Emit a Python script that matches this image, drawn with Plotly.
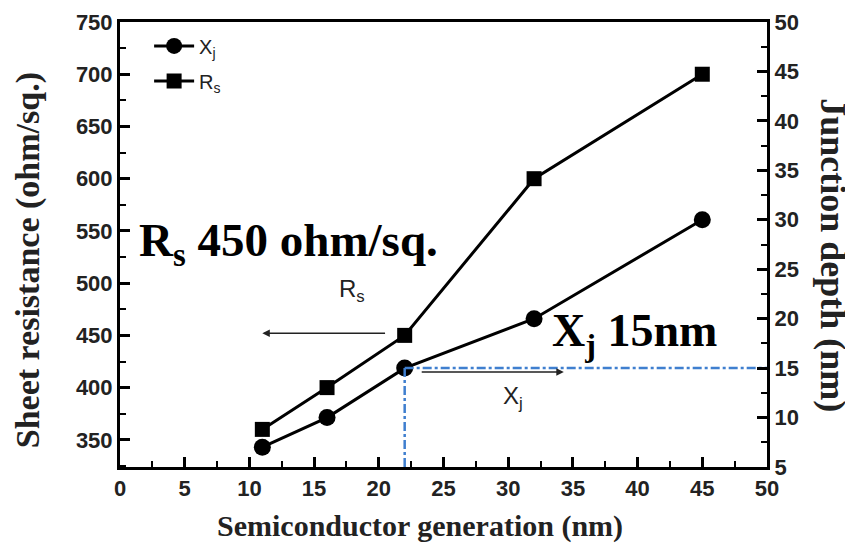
import plotly.graph_objects as go

generation = [11, 16, 22, 32, 45]
rs_values = [360, 400, 450, 600, 700]
xj_values = [7, 10, 15, 20, 30]

x_ticks = [0, 5, 10, 15, 20, 25, 30, 35, 40, 45, 50]
left_ticks = [350, 400, 450, 500, 550, 600, 650, 700, 750]
right_ticks = [5, 10, 15, 20, 25, 30, 35, 40, 45, 50]

SANS = "Liberation Sans"
SERIF = "Liberation Serif"


def bold(vals):
    return [f"<b>{v}</b>" for v in vals]


fig = go.Figure()
fig.add_trace(go.Scatter(
    x=generation, y=xj_values, name="X<sub>j</sub>", yaxis="y2", legendgroup="a",
    mode="lines+markers", line=dict(color="black", width=3),
    marker=dict(symbol="circle", size=17, color="black"),
))
fig.add_trace(go.Scatter(
    x=generation, y=rs_values, name="R<sub>s</sub>", legendgroup="b",
    mode="lines+markers", line=dict(color="black", width=3),
    marker=dict(symbol="square", size=15, color="black"),
))

# reference lines at Xj = 15 nm, generation = 22 nm
blue = "#3f7fcf"
fig.add_trace(go.Scatter(x=[22, 50], y=[15, 15], yaxis="y2", mode="lines",
                         line=dict(color=blue, width=2.5, dash="dashdot"),
                         showlegend=False, hoverinfo="skip"))
fig.add_trace(go.Scatter(x=[22, 22], y=[5, 15], yaxis="y2", mode="lines",
                         line=dict(color=blue, width=2.5, dash="dashdot"),
                         showlegend=False, hoverinfo="skip"))

axis_common = dict(
    showgrid=False, zeroline=False, showline=True, linecolor="black", linewidth=3,
    ticks="inside", ticklen=10, tickwidth=2.5, tickcolor="black", automargin=False,
    tickfont=dict(family=SANS, size=22, color="#222"),
)

fig.update_layout(
    width=845, height=543,
    margin=dict(l=112, r=86, t=14, b=84),
    paper_bgcolor="white", plot_bgcolor="white",
    xaxis=dict(range=[0, 50], tickvals=x_ticks, ticktext=bold(x_ticks), mirror=True,
               minor=dict(dtick=2.5, ticks="inside", ticklen=6, tickwidth=2, tickcolor="black"),
               **axis_common),
    yaxis=dict(range=[324, 750], tickvals=left_ticks, ticktext=bold(left_ticks),
               minor=dict(dtick=25, ticks="inside", ticklen=6, tickwidth=2, tickcolor="black"),
               **axis_common),
    yaxis2=dict(range=[5, 50], tickvals=right_ticks, ticktext=bold(right_ticks),
                overlaying="y", side="right",
                minor=dict(dtick=2.5, ticks="inside", ticklen=6, tickwidth=2, tickcolor="black"),
                **axis_common),
    legend=dict(x=0.045, y=0.99, xanchor="left", yanchor="top",
                bgcolor="rgba(0,0,0,0)", font=dict(family=SANS, size=20, color="#222"),
                itemwidth=40, traceorder="grouped", tracegroupgap=6),
    showlegend=True,
)

title_font = dict(family=SERIF, color="#222", weight="bold")
fig.add_annotation(xref="paper", yref="paper", x=0.464, y=-0.133, xanchor="center", yanchor="middle",
                   text="<b>Semiconductor generation (nm)</b>", showarrow=False,
                   font=dict(size=30, **title_font))
fig.add_annotation(xref="paper", yref="paper", x=-0.142, y=0.465, xanchor="center", yanchor="middle",
                   textangle=-90, text="<b>Sheet resistance (ohm/sq.)</b>", showarrow=False,
                   font=dict(size=34, **title_font))
fig.add_annotation(xref="paper", yref="paper", x=1.102, y=0.476, xanchor="center", yanchor="middle",
                   textangle=90, text="<b>Junction depth (nm)</b>", showarrow=False,
                   font=dict(size=36, **title_font))

fig.add_annotation(x=1.3, y=538, xref="x", yref="y", xanchor="left",
                   text="<b>R<sub>s</sub> 450 ohm/sq.</b>", showarrow=False,
                   font=dict(family=SERIF, size=47, color="black"))
fig.add_annotation(x=33.2, y=18.5, xref="x", yref="y2", xanchor="left",
                   text="<b>X<sub>j</sub> 15nm</b>", showarrow=False,
                   font=dict(family=SERIF, size=46, color="black"))

# arrows
fig.add_annotation(x=11.0, y=452, ax=20.6, ay=452, xref="x", yref="y", axref="x", ayref="y",
                   text="", showarrow=True, arrowhead=2, arrowsize=1, arrowwidth=1.5, arrowcolor="#222")
fig.add_annotation(x=17.9, y=493, xref="x", yref="y", text="R<sub>s</sub>", showarrow=False,
                   font=dict(family=SANS, size=24, color="#222"))
fig.add_annotation(x=34.3, y=14.6, ax=23.2, ay=14.6, xref="x", yref="y2", axref="x", ayref="y2",
                   text="", showarrow=True, arrowhead=2, arrowsize=1, arrowwidth=1.5, arrowcolor="#222")
fig.add_annotation(x=30.4, y=12.0, xref="x", yref="y2", text="X<sub>j</sub>", showarrow=False,
                   font=dict(family=SANS, size=24, color="#222"))

fig.write_html("out.html")
